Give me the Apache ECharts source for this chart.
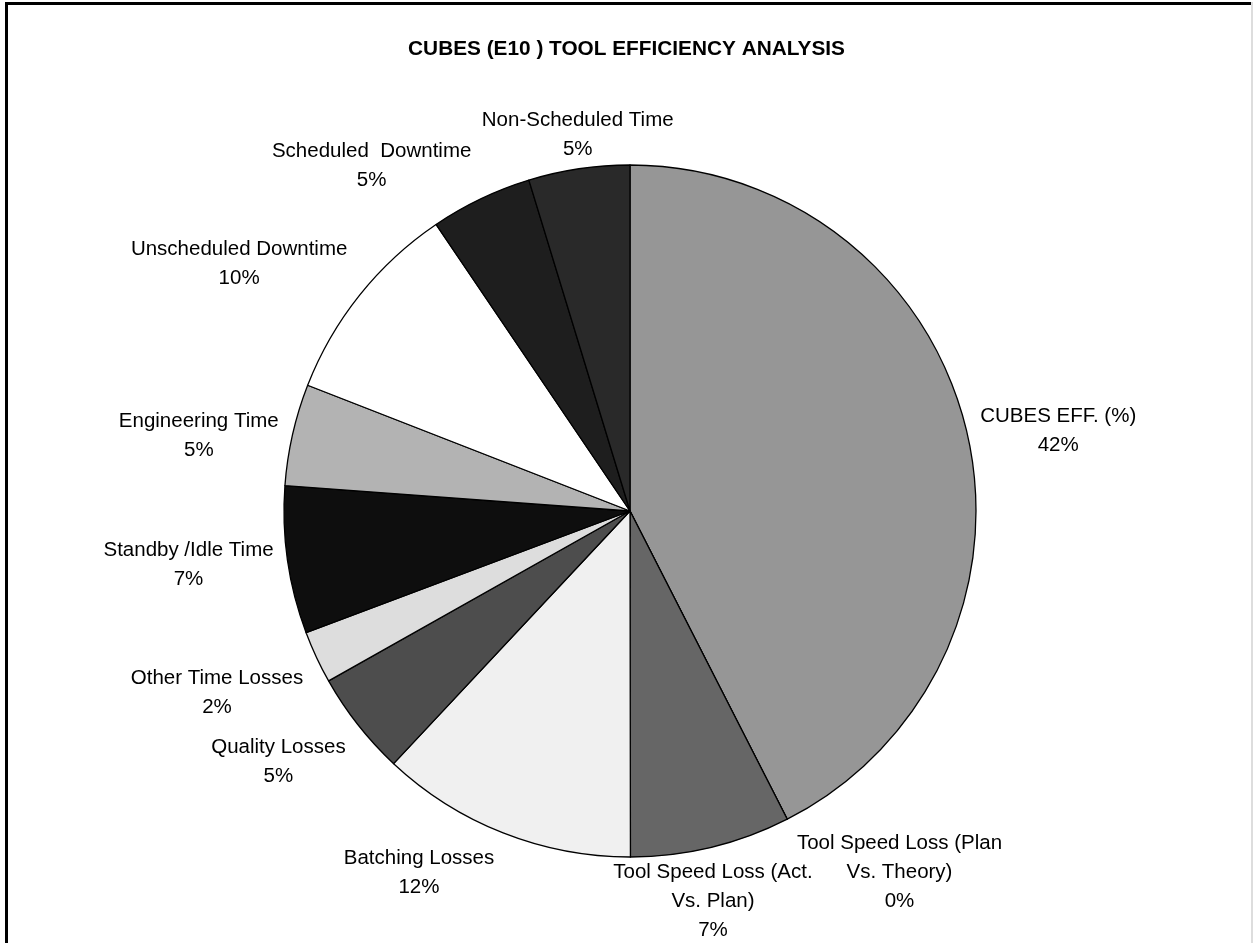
<!DOCTYPE html>
<html>
<head>
<meta charset="utf-8">
<title>CUBES (E10 ) Tool Efficiency Analysis</title>
<script src="https://cdn.jsdelivr.net/npm/echarts@6/dist/echarts.min.js"></script>
<style>
  html, body { margin: 0; padding: 0; background: #fff; }
  #main { width: 1253px; height: 943px; }
</style>
</head>
<body>
<div id="main"></div>
<script>
// slices, clockwise from 12 o'clock
var categories = [
  'CUBES EFF. (%)',
  'Tool Speed Loss (Plan Vs. Theory)',
  'Tool Speed Loss (Act. Vs. Plan)',
  'Batching Losses',
  'Quality Losses',
  'Other Time Losses',
  'Standby /Idle Time',
  'Engineering Time',
  'Unscheduled Downtime',
  'Scheduled  Downtime',
  'Non-Scheduled Time'
];
var shares = [42.49, 0, 7.49, 11.99, 4.86, 2.45, 6.89, 4.75, 9.61, 4.75, 4.72];
var sliceColors = ['#969696', '#808080', '#666666', '#f0f0f0', '#4d4d4d', '#dddddd',
  '#0e0e0e', '#b3b3b3', '#ffffff', '#1e1e1e', '#292929'];

var chartDom = document.getElementById('main');
var myChart = echarts.init(chartDom);
var option;

var CX = 630, CY = 511, GAP = 8, PAD_X = 6, SHIFT_Y = 3;

// how much of the half box is pushed outward, by direction component
function push(d) {
  var a = Math.min(1, Math.max(0, (Math.abs(d) - 0.25) / 0.1));
  return d < 0 ? -a : a;
}

// put each label box just outside the slice midpoint, like Excel does
function placeLabel(params) {
  var pts = params.labelLinePoints;
  if (!pts) return {};
  var ux = pts[0][0] - CX, uy = pts[0][1] - CY;
  var len = Math.sqrt(ux * ux + uy * uy) || 1;
  ux /= len; uy /= len;
  var w = params.labelRect.width, h = params.labelRect.height;
  return {
    x: pts[0][0] + ux * GAP + push(ux) * (w / 2 + PAD_X),
    y: pts[0][1] + uy * GAP + push(uy) * h / 2 + SHIFT_Y,
    align: 'center',
    verticalAlign: 'middle'
  };
}

option = {
  backgroundColor: '#ffffff',
  animation: false,
  title: {
    text: 'CUBES (E10 ) TOOL EFFICIENCY ANALYSIS',
    left: 'center',
    top: 34,
    textStyle: {
      fontFamily: 'Liberation Sans, Arial, sans-serif',
      fontSize: 20.8,
      fontWeight: 'bold',
      color: '#000'
    }
  },
  graphic: [
    {
      type: 'polyline',
      shape: { points: [[6.5, 960], [6.5, 3.5], [1251, 3.5]] },
      style: { stroke: '#000', lineWidth: 3, fill: null }
    },
    {
      type: 'line',
      shape: { x1: 1252, y1: 2, x2: 1252, y2: 960 },
      style: { stroke: '#bbbbbb', lineWidth: 1 }
    }
  ],
  series: [
    {
      type: 'pie',
      center: [CX, CY],
      radius: 346,
      startAngle: 90,
      clockwise: true,
      avoidLabelOverlap: false,
      data: categories.map(function (name, i) {
        return { name: name, value: shares[i], itemStyle: { color: sliceColors[i] } };
      }),
      itemStyle: { borderColor: '#000', borderWidth: 1.3 },
      emphasis: { disabled: true },
      label: {
        show: true,
        position: 'outside',
        fontFamily: 'Liberation Sans, Arial, sans-serif',
        fontSize: 20.5,
        lineHeight: 29,
        color: '#000',
        formatter: function (p) {
          return p.name.replace(' Vs.', '\nVs.') + '\n' + Math.round(p.percent) + '%';
        }
      },
      labelLine: {
        show: true,
        length: 10,
        length2: 0,
        lineStyle: { opacity: 0 }
      },
      labelLayout: placeLabel
    }
  ]
};

option && myChart.setOption(option);
</script>
</body>
</html>
